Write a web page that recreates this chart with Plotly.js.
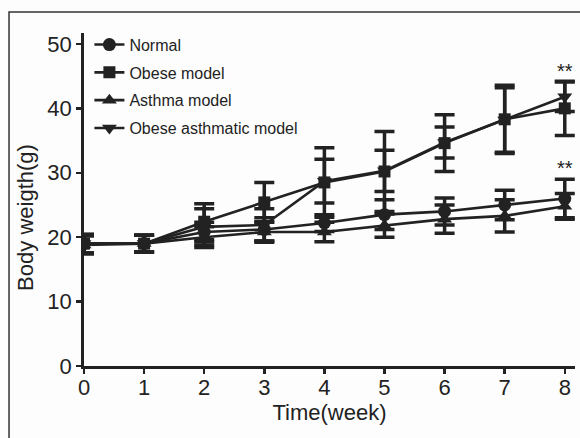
<!DOCTYPE html>
<html>
<head>
<meta charset="utf-8">
<script src="https://cdn.plot.ly/plotly-3.0.1.min.js"></script>
<style>html,body{margin:0;padding:0;background:#fdfdfd;}#chart{width:580px;height:438px;}</style>
</head>
<body>
<div id="chart"></div>
<script>
const weeks = [0, 1, 2, 3, 4, 5, 6, 7, 8];
const seriesNames = ["Normal", "Obese model", "Asthma model", "Obese asthmatic model"];
const normal = [19, 19, 20.8, 21.2, 22.2, 23.5, 24, 25, 26];
const normalErr = [1.4, 1.3, 1.5, 1.8, 1.3, 2.3, 2.1, 2.3, 3];
const obese = [19, 19, 22.4, 25.4, 28.5, 30.2, 34.6, 38.3, 40];
const obeseErr = [1.4, 1.3, 2.8, 3.1, 5.4, 6.2, 4.4, 5.3, 4.2];
const asthma = [18.8, 19, 20, 20.8, 20.8, 21.8, 22.8, 23.3, 24.8];
const asthmaErr = [1.4, 1.3, 1.6, 1.6, 1.5, 1.8, 2.2, 2.5, 2];
const obeseAsthma = [19, 19, 21.6, 21.9, 28.7, 30.3, 34.7, 38.2, 41.8];
const obeseAsthmaErr = [1.4, 1.3, 2.8, 2.5, 3.4, 3.2, 2.4, 5, 2.3];
const markerSymbols = ["circle", "square", "triangle-up", "triangle-down"];
const sigLabels = ["**", "**"];
const sigPositions = [45.8, 30.8];
const xTitle = "Time(week)";
const yTitle = "Body weigth(g)";

const ink = "#222";
const font = "Liberation Sans, Arial, sans-serif";
const allY = [normal, obese, asthma, obeseAsthma];
const allErr = [normalErr, obeseErr, asthmaErr, obeseAsthmaErr];

const traces = allY.map((ys, i) => ({
  type: "scatter",
  mode: "lines+markers",
  name: seriesNames[i],
  legendgroup: "g" + i,
  x: weeks,
  y: ys,
  line: {color: ink, width: 2.6},
  marker: {symbol: markerSymbols[i], size: i === 1 ? 12 : 13, color: ink},
  error_y: {type: "data", array: allErr[i], visible: true, color: ink, thickness: 3.5, width: 10}
}));

const annotations = sigLabels.map((t, i) => ({
  x: 8, y: sigPositions[i], xref: "x", yref: "y", text: t, showarrow: false,
  font: {family: font, size: 20, color: ink}
}));
annotations.push({
  xref: "paper", yref: "paper", x: -0.118, y: 0.445, text: yTitle, textangle: -90,
  showarrow: false, xanchor: "center", yanchor: "middle",
  font: {family: font, size: 22, color: ink}
});

const layout = {
  width: 580, height: 438,
  margin: {l: 84, r: 5, t: 33, b: 72},
  paper_bgcolor: "#fdfdfd",
  plot_bgcolor: "#fdfdfd",
  showlegend: true,
  legend: {
    x: 0.011, y: 1.016, xanchor: "left", yanchor: "top",
    bgcolor: "rgba(0,0,0,0)",
    tracegroupgap: 4,
    font: {family: font, size: 16, color: ink}
  },
  xaxis: {
    range: [0, 8.17],
    tickvals: weeks,
    ticks: "outside", ticklen: 5, tickwidth: 2.5, tickcolor: ink,
    ticklabelstandoff: -5,
    showline: true, linecolor: ink, linewidth: 2.8,
    showgrid: false, zeroline: false,
    tickfont: {family: font, size: 22, color: ink},
    title: {text: xTitle, standoff: 6, font: {family: font, size: 22, color: ink}}
  },
  yaxis: {
    range: [0, 51.7],
    tickvals: [0, 10, 20, 30, 40, 50],
    ticks: "outside", ticklen: 5, tickwidth: 2.5, tickcolor: ink,
    showline: true, linecolor: ink, linewidth: 2.8,
    showgrid: false, zeroline: false,
    tickfont: {family: font, size: 22, color: ink}
  },
  annotations: annotations,
  shapes: [{
    type: "rect", xref: "paper", yref: "paper",
    x0: -0.1527, x1: 1.05, y0: -0.3, y1: 1.063,
    line: {color: "#333", width: 1.5}, fillcolor: "rgba(0,0,0,0)", layer: "below"
  }]
};

Plotly.newPlot("chart", traces, layout, {staticPlot: true, displayModeBar: false});
</script>
</body>
</html>
